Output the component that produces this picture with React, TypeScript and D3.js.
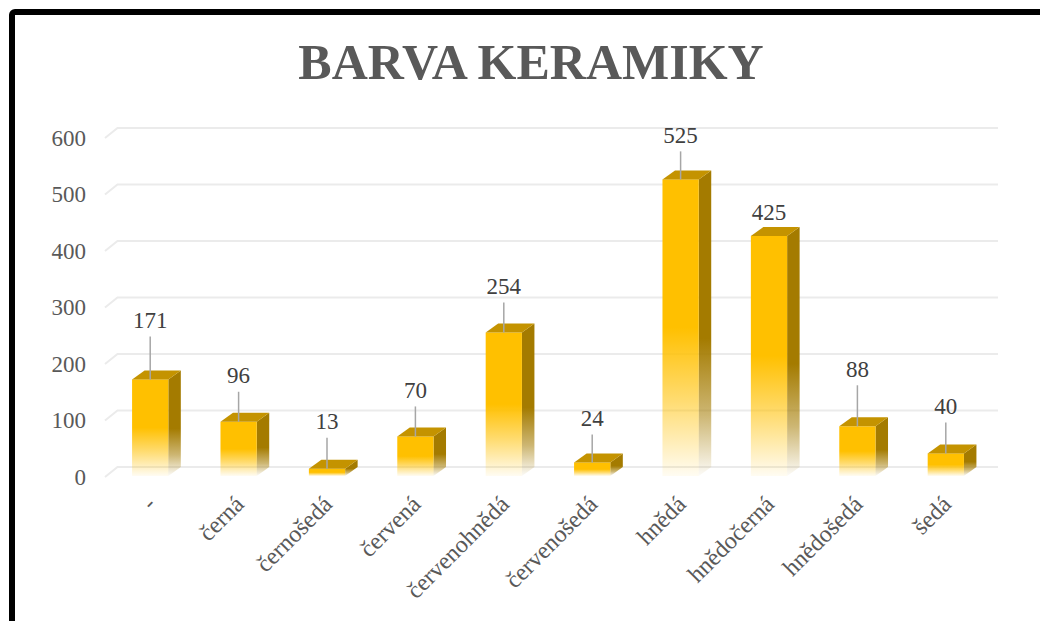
import React from 'react';
import * as d3 from 'd3';

const categories = ['-', 'černá', 'černošedá', 'červená', 'červenohnědá', 'červenošedá', 'hnědá', 'hnědočerná', 'hnědošedá', 'šedá'];
const values = [171, 96, 13, 70, 254, 24, 525, 425, 88, 40];
const yTicks = [0, 100, 200, 300, 400, 500, 600];
const labelGap = [59, 46, 47, 46, 46, 44, 44, 23, 57, 47];

const W = 1040, H = 621;
const DX = 12.5, DY = -9;
const FONT = '"Liberation Serif", "Times New Roman", serif';

export default function App() {
  const x = d3.scaleBand<string>().domain(categories).range([106, 990]).paddingInner(0.59).paddingOuter(0.295);
  const y = d3.scaleLinear().domain([0, 600]).range([476, 137]);
  const bw = x.bandwidth();

  return (
    <svg width={W} height={H} style={{ position: 'absolute', left: 0, top: 0, display: 'block' }} xmlns="http://www.w3.org/2000/svg">
      <defs>
        <linearGradient id="gFront" x1="0" y1="0" x2="0" y2="1">
          <stop offset="0" stopColor="#FFC000" stopOpacity={1} />
          <stop offset="0.5" stopColor="#FFC000" stopOpacity={1} />
          <stop offset="0.75" stopColor="#FFC000" stopOpacity={0.55} />
          <stop offset="1" stopColor="#FFC000" stopOpacity={0.05} />
        </linearGradient>
        <linearGradient id="gSide" x1="0" y1="0" x2="0" y2="1">
          <stop offset="0" stopColor="#A47B00" stopOpacity={1} />
          <stop offset="0.55" stopColor="#A47B00" stopOpacity={1} />
          <stop offset="0.8" stopColor="#A47B00" stopOpacity={0.55} />
          <stop offset="1" stopColor="#A47B00" stopOpacity={0.03} />
        </linearGradient>
      </defs>
      <rect x={0} y={0} width={W} height={H} fill="#fff" />
      {/* gridlines */}
      {yTicks.map((t) => {
        const yy = y(t);
        return (
          <g key={t}>
            <path d={`M105,${yy + 1} L${105 + DX},${yy + DY} L998,${yy + DY}`} fill="none" stroke="#EBEBEB" strokeWidth={2} />
            <text x={86} y={yy + 1} textAnchor="end" dominantBaseline="central" fontFamily={FONT} fontSize={23} fill="#595959">{t}</text>
          </g>
        );
      })}
      {/* bars */}
      {categories.map((c, i) => {
        const x0 = x(c)!;
        const x1 = x0 + bw;
        const yt = y(values[i]);
        const yb = y(0);
        return (
          <g key={c}>
            <path d={`M${x1},${yt} L${x1 + DX},${yt + DY} L${x1 + DX},${yb + DY} L${x1},${yb} Z`} fill="url(#gSide)" />
            <rect x={x0} y={yt} width={bw} height={yb - yt} fill="url(#gFront)" />
            <path d={`M${x0},${yt} L${x0 + DX},${yt + DY} L${x1 + DX},${yt + DY} L${x1},${yt} Z`} fill="#C49300" />
          </g>
        );
      })}
      {/* data labels */}
      {categories.map((c, i) => {
        const cx = x(c)! + bw / 2;
        const yt = y(values[i]);
        const ly = yt - labelGap[i];
        return (
          <g key={'l' + c}>
            {labelGap[i] > 30 && (
              <line x1={cx} x2={cx} y1={ly + 16} y2={yt} stroke="#A6A6A6" strokeWidth={1.5} />
            )}
            <text x={cx} y={ly} textAnchor="middle" dominantBaseline="central" fontFamily={FONT} fontSize={23} fill="#404040">{values[i]}</text>
          </g>
        );
      })}
      {/* category labels */}
      {categories.map((c) => {
        const cx = x(c)! + bw / 2;
        return (
          <text key={'c' + c} transform={`translate(${cx + 1},${500}) rotate(-45)`} textAnchor="end" dominantBaseline="central" fontFamily={FONT} fontSize={24} fill="#595959">{c}</text>
        );
      })}
      {/* title */}
      <text x={531} y={62} textAnchor="middle" dominantBaseline="central" fontFamily={FONT} fontSize={50} fontWeight="bold" fill="#595959">BARVA KERAMIKY</text>
      {/* frame */}
      <rect x={12} y={12} width={1050} height={640} rx={3} fill="none" stroke="#000" strokeWidth={6} />
    </svg>
  );
}
